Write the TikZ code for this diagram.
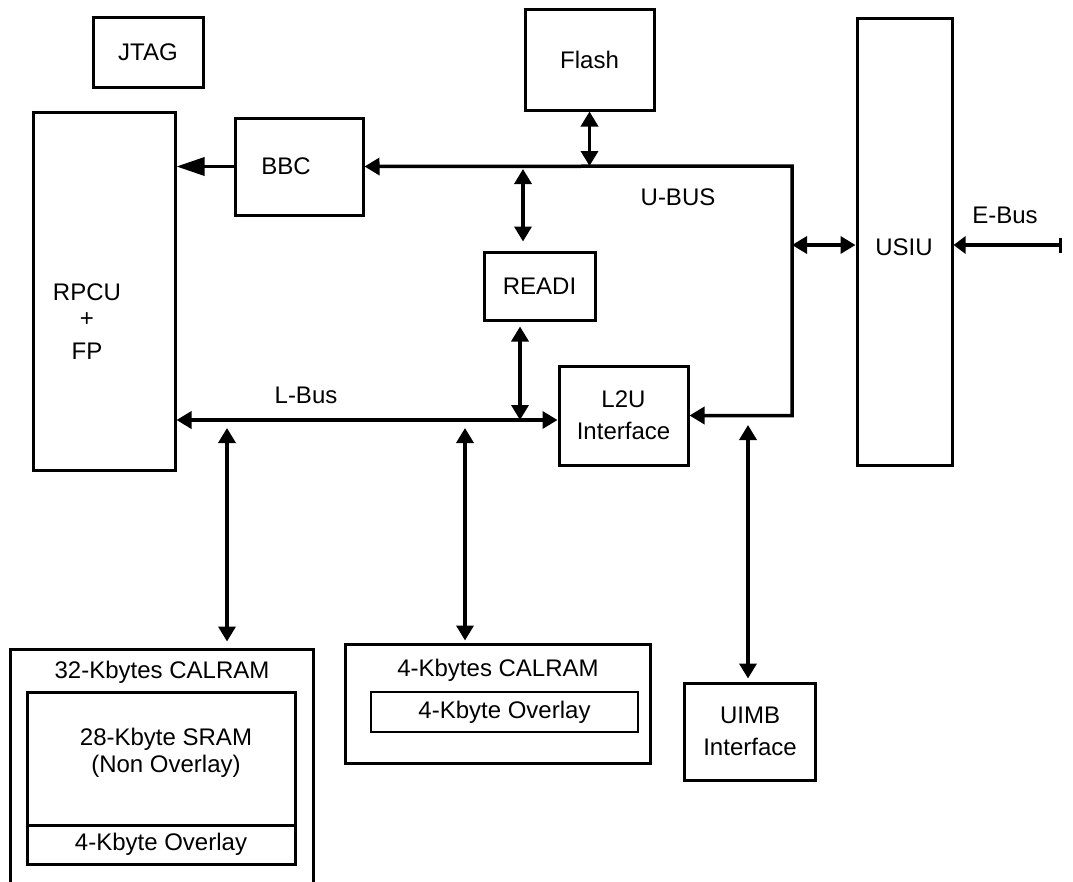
\documentclass[tikz,border=0pt]{standalone}
\usepackage{fontspec}
\setmainfont{Liberation Sans}
\usetikzlibrary{arrows.meta}
\begin{document}
\begin{tikzpicture}[x=1pt,y=-1pt,
	font=\fontsize{24}{32}\selectfont,
	blk/.style={draw,line width=3pt,rectangle,inner sep=0pt,align=center},
	lbl/.style={inner sep=0pt,align=center},
	dbl/.style={line width=3.5pt,{Triangle[length=15pt,width=17pt]}-{Triangle[length=15pt,width=17pt]}},
	big/.style={line width=3.5pt,-{Triangle[length=28pt,width=18pt]}}]
	\useasboundingbox (0,0) rectangle (1073,881);
	\clip (0,0) rectangle (1073,881);
	\node[blk,minimum width=110pt,minimum height=70pt] (jtag) at (148,52) {JTAG};
	\node[blk,minimum width=142pt,minimum height=358pt] (rpcu) at (104,291) {};
	\node[lbl] (rpcutxt) at (87,292) {RPCU};
	\node[lbl] (plustxt) at (87,320) {+};
	\node[lbl] (fptxt) at (87,351) {FP};
	\node[blk,minimum width=128pt,minimum height=97pt] (bbc) at (299,166.5) {};
	\node[lbl] (bbctxt) at (286,166) {BBC};
	\node[blk,minimum width=129pt,minimum height=101pt] (flash) at (589.5,59.5) {Flash};
	\node[blk,minimum width=111pt,minimum height=68pt] (readi) at (539.5,286) {READI};
	\node[blk,minimum width=129pt,minimum height=99pt] (l2u) at (623.5,415.5) {L2U\\Interface};
	\node[blk,minimum width=95pt,minimum height=447pt] (usiu) at (904.5,241.5) {};
	\node[lbl] (usiutxt) at (904,247) {USIU};
	\node[blk,minimum width=131pt,minimum height=97pt] (uimb) at (750,731.5) {UIMB\\Interface};
	\node[blk,minimum width=303pt,minimum height=260pt] (cal32) at (161.5,779) {};
	\node[lbl] (cal32txt) at (162,672) {32-Kbytes CALRAM};
	\node[blk,minimum width=268pt,minimum height=133pt] (sram) at (161,758.5) {};
	\node[lbl,font=\fontsize{24}{27}\selectfont] (sramtxt) at (166,753) {28-Kbyte SRAM\\(Non Overlay)};
	\node[blk,minimum width=268pt,minimum height=39pt] (ov32) at (161,844.5) {4-Kbyte Overlay};
	\node[blk,minimum width=305pt,minimum height=119pt] (cal4) at (497.5,703.5) {};
	\node[lbl] (cal4txt) at (498,670) {4-Kbytes CALRAM};
	\node[blk,line width=2.5pt,minimum width=267pt,minimum height=40pt] (ov4) at (504.5,712) {4-Kbyte Overlay};
	\node[lbl] (ubustxt) at (678,197) {U-BUS};
	\node[lbl] (lbustxt) at (306,395) {L-Bus};
	\node[lbl] (ebustxt) at (1005,215) {E-Bus};
	\coordinate (ubus) at (792,166);
	\coordinate (lbus) at (520,420);
	\coordinate (readiup) at (523,169);
	\coordinate (usiuport) at (792,245);
	\coordinate (ebus) at (1062,245);
	\coordinate (uimbport) at (748,425);
	\coordinate (cal32port) at (227,428);
	\coordinate (cal4port) at (465,428);
	\draw[big] (bbc.west) -- (rpcu.east |- bbc.west);
	\draw[dbl] (bbc.east) -- (ubus) |- (l2u.east);
	\draw[dbl] (flash.south) -- (flash.south |- ubus);
	\draw[dbl,shorten >=9pt] (readiup) -- (readiup |- readi.north);
	\draw[dbl,shorten <=5pt] (lbus |- readi.south) -- (lbus);
	\draw[dbl] (rpcu.east |- lbus) -- (l2u.west |- lbus);
	\draw[dbl] (usiuport) -- (usiu.west |- usiuport);
	\draw[line width=3.5pt,{Bar[width=15pt]}-{Triangle[length=12pt,width=17pt]}] (ebus) -- (usiu.east |- ebus);
	\draw[dbl,shorten >=3pt] (uimbport) -- (uimbport |- uimb.north);
	\draw[dbl,shorten >=6pt] (cal32port) -- (cal32port |- cal32.north);
	\draw[dbl,shorten >=2pt] (cal4port) -- (cal4port |- cal4.north);
\end{tikzpicture}
\end{document}
